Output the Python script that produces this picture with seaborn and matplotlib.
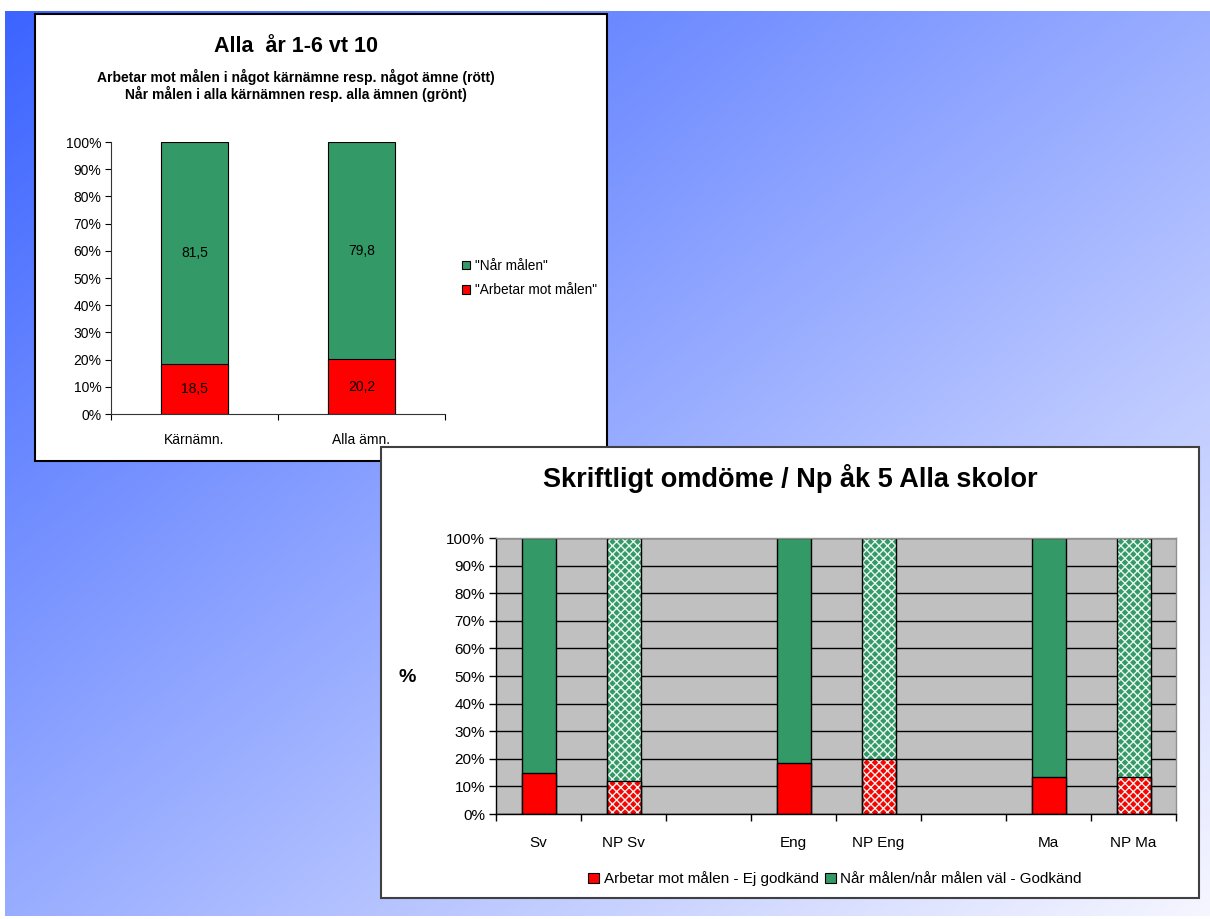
import numpy as np
import pandas as pd
import seaborn as sns
import matplotlib.pyplot as plt
import matplotlib.patches as mpatches

# --- DATA ---
TOP_TITLE = "Alla  år 1-6 vt 10"
TOP_SUBTITLES = [
    "Arbetar mot målen i något kärnämne resp. något ämne (rött)",
    "Når målen i alla kärnämnen resp. alla ämnen (grönt)",
]
TOP_CATEGORIES = ["Kärnämn.", "Alla ämn."]
TOP_ARBETAR = [18.5, 20.2]
TOP_NAR = [81.5, 79.8]
TOP_LEGEND = ['"Når målen"', '"Arbetar mot målen"']

BOTTOM_TITLE = "Skriftligt omdöme / Np åk 5 Alla skolor"
BOTTOM_ORDER = ["Sv", "NP Sv", "", "Eng", "NP Eng", " ", "Ma", "NP Ma"]
BOTTOM_SUBJECTS = ["Sv", "NP Sv", "Eng", "NP Eng", "Ma", "NP Ma"]
BOTTOM_EJ_GODKAND = [15.0, 12.0, 18.6, 20.0, 13.3, 13.3]
BOTTOM_GODKAND = [85.0, 88.0, 81.4, 80.0, 86.7, 86.7]
BOTTOM_LEGEND = ["Arbetar mot målen - Ej godkänd", "Når målen/når målen väl - Godkänd"]
Y_TICKS = list(range(0, 101, 10))

# --- STYLE ---
GREEN = "#339966"
RED = "#ff0000"
W, H = 1210, 919


def comma(v):
    return f"{v:.1f}".replace(".", ",")


def main():
    sns.set_theme(style="white")
    plt.rcParams["font.family"] = ["Liberation Sans", "DejaVu Sans"]
    plt.rcParams["hatch.linewidth"] = 1.0
    for key in ["text.color", "axes.labelcolor", "xtick.color", "ytick.color"]:
        plt.rcParams[key] = "black"

    fig = plt.figure(figsize=(W / 100, H / 100), dpi=100)
    fig.patch.set_facecolor("white")

    # gradient backdrop (diagonal, blue top-left -> near white bottom-right)
    bg = fig.add_axes([5 / W, 3 / H, 1205 / W, 905 / H], zorder=-10)
    gx, gy = np.meshgrid(np.linspace(0, 1, 300), np.linspace(0, 1, 230))
    t = (gx + gy) / 2
    c0 = np.array([0x3c, 0x64, 0xff]) / 255
    c1 = np.array([0xf6, 0xf6, 0xff]) / 255
    bg.imshow(c0 + t[..., None] * (c1 - c0), aspect="auto", interpolation="bilinear")
    bg.axis("off")

    # panel frames
    fig.add_artist(mpatches.Rectangle((35 / W, 1 - 461 / H), 572 / W, 447 / H,
                                      transform=fig.transFigure, fc="white",
                                      ec="black", lw=1.5, zorder=-5))
    fig.add_artist(mpatches.Rectangle((381 / W, 1 - 898 / H), 818 / W, 451 / H,
                                      transform=fig.transFigure, fc="white",
                                      ec="#404040", lw=1.5, zorder=1))

    # -------------------------------------------------------
    # CHART 1: Alla år 1-6
    # -------------------------------------------------------
    top = pd.DataFrame({"cat": TOP_CATEGORIES, "red": TOP_ARBETAR, "green": TOP_NAR})
    top["total"] = top["red"] + top["green"]

    ax1 = fig.add_axes([111 / W, 1 - 414 / H, 334 / W, 272 / H], zorder=0.5)
    ax1.set_facecolor("none")
    sns.barplot(data=top, x="cat", y="total", color=GREEN, saturation=1,
                width=0.4, edgecolor="black", linewidth=0.8, ax=ax1)
    sns.barplot(data=top, x="cat", y="red", color=RED, saturation=1,
                width=0.4, edgecolor="black", linewidth=0.8, ax=ax1)

    # segment labels in the middle of each stacked piece
    for i, row in top.iterrows():
        ax1.text(i, row["red"] / 2, comma(row["red"]), ha="center", va="center",
                 fontsize=10)
        ax1.text(i, row["red"] + row["green"] / 2, comma(row["green"]),
                 ha="center", va="center", fontsize=10)

    ax1.set_ylim(0, 100)
    ax1.set_xlim(-0.5, 1.5)
    ax1.set_yticks(Y_TICKS)
    ax1.set_yticklabels([f"{v}%" for v in Y_TICKS], fontsize=10)
    ax1.set_xticks(range(len(TOP_CATEGORIES)))
    ax1.set_xticklabels(TOP_CATEGORIES, fontsize=10)
    ax1.set_xticks(np.arange(-0.5, len(TOP_CATEGORIES), 1), minor=True)
    ax1.tick_params(axis="x", which="major", length=0, pad=14)
    ax1.tick_params(axis="x", which="minor", length=4, width=0.8, color="black", bottom=True)
    ax1.tick_params(axis="y", length=4, width=0.8, color="black", left=True, pad=3)
    ax1.set_xlabel("")
    ax1.set_ylabel("")
    for s in ["top", "right"]:
        ax1.spines[s].set_visible(False)
    for s in ["left", "bottom"]:
        ax1.spines[s].set_color("#333333")
        ax1.spines[s].set_linewidth(0.8)

    handles = [mpatches.Patch(fc=GREEN, ec="black", lw=0.8),
               mpatches.Patch(fc=RED, ec="black", lw=0.8)]
    ax1.legend(handles, TOP_LEGEND, loc="center left",
               bbox_to_anchor=(450 / W, 1 - 278 / H), bbox_transform=fig.transFigure,
               frameon=False, fontsize=9.8, handlelength=0.6, handleheight=0.6,
               handletextpad=0.35, labelspacing=0.75)

    fig.text(296 / W, 1 - 47 / H, TOP_TITLE, ha="center", va="center",
             fontsize=15.5, fontweight="bold")
    fig.text(296 / W, 1 - 77 / H, TOP_SUBTITLES[0], ha="center", va="center",
             fontsize=10, fontweight="bold")
    fig.text(296 / W, 1 - 94 / H, TOP_SUBTITLES[1], ha="center", va="center",
             fontsize=10, fontweight="bold")

    # -------------------------------------------------------
    # CHART 2: Skriftligt omdöme / Np
    # -------------------------------------------------------
    bot = pd.DataFrame({"subj": BOTTOM_SUBJECTS, "red": BOTTOM_EJ_GODKAND,
                        "green": BOTTOM_GODKAND})
    bot["total"] = bot["red"] + bot["green"]

    ax2 = fig.add_axes([496 / W, 1 - 814 / H, 680 / W, 276 / H], zorder=2)
    ax2.set_facecolor("#c0c0c0")
    ax2.set_axisbelow(True)
    ax2.yaxis.grid(True, color="black", lw=1)
    sns.barplot(data=bot, x="subj", y="total", order=BOTTOM_ORDER, color=GREEN,
                saturation=1, width=0.4, edgecolor="black", linewidth=1, ax=ax2)
    sns.barplot(data=bot, x="subj", y="red", order=BOTTOM_ORDER, color=RED,
                saturation=1, width=0.4, edgecolor="black", linewidth=1, ax=ax2)

    # NP bars get a white cross-hatch pattern
    for p in list(ax2.patches):
        idx = int(round(p.get_x() + p.get_width() / 2))
        if BOTTOM_ORDER[idx].startswith("NP"):
            ax2.add_patch(mpatches.Rectangle(p.get_xy(), p.get_width(), p.get_height(),
                                             fill=False, ec="black", lw=1,
                                             zorder=p.get_zorder() + 0.1))
            p.set_hatch("xxxx")
            p.set_edgecolor("#e8f4ee")
            p.set_linewidth(0)

    n = len(BOTTOM_ORDER)
    ax2.set_ylim(0, 100)
    ax2.set_xlim(-0.5, n - 0.5)
    ax2.set_yticks(Y_TICKS)
    ax2.set_yticklabels([f"{v}%" for v in Y_TICKS], fontsize=11)
    ax2.set_xticks(range(n))
    ax2.set_xticklabels(BOTTOM_ORDER, fontsize=11)
    ax2.set_xticks(np.arange(-0.5, n, 1), minor=True)
    ax2.tick_params(axis="x", which="major", length=0, pad=16)
    ax2.tick_params(axis="x", which="minor", length=5, width=1, color="black", bottom=True)
    ax2.tick_params(axis="y", length=5, width=1, color="black", left=True, pad=3)
    ax2.set_xlabel("")
    ax2.set_ylabel("")
    for s in ["top", "right"]:
        ax2.spines[s].set_color("#909090")
        ax2.spines[s].set_linewidth(1)
    for s in ["left", "bottom"]:
        ax2.spines[s].set_color("black")
        ax2.spines[s].set_linewidth(1)

    fig.text(407 / W, 1 - 678 / H, "%", ha="center", va="center",
             fontsize=14, fontweight="bold", zorder=3)
    fig.text(790 / W, 1 - 479 / H, BOTTOM_TITLE, ha="center", va="center",
             fontsize=19.5, fontweight="bold", zorder=3)

    handles = [mpatches.Patch(fc=RED, ec="black", lw=0.8),
               mpatches.Patch(fc=GREEN, ec="black", lw=0.8)]
    fig.legend(handles, BOTTOM_LEGEND, loc="center",
               bbox_to_anchor=(835 / W, 1 - 879 / H), ncol=2, frameon=False,
               fontsize=11, handlelength=0.7, handleheight=0.7,
               handletextpad=0.3, columnspacing=0.4)

    fig.savefig("out.png", dpi=100)
    plt.close(fig)


if __name__ == "__main__":
    main()
